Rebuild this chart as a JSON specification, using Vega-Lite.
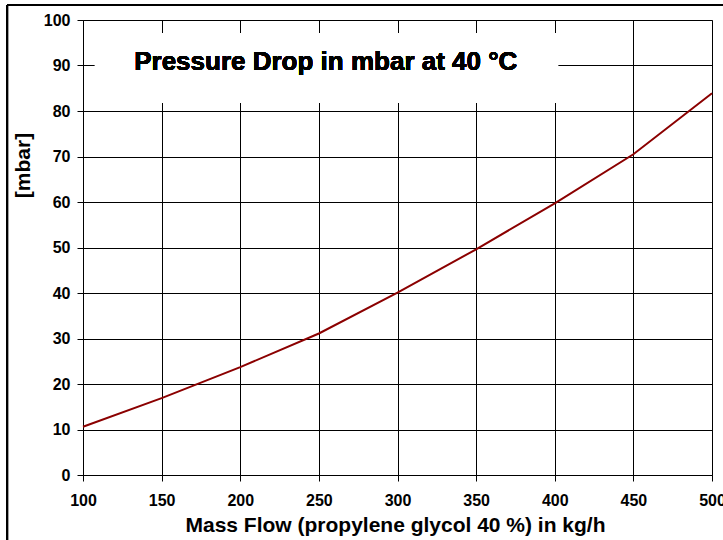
{
  "$schema": "https://vega.github.io/schema/vega-lite/v6.json",
  "width": 629,
  "height": 455,
  "autosize": {"type": "none"},
  "padding": {"left": 83, "top": 20, "right": 11, "bottom": 65},
  "background": "white",
  "config": {
    "font": "Liberation Sans",
    "view": {"stroke": "#808080", "strokeWidth": 1},
    "axis": {
      "labelFont": "Liberation Sans",
      "labelFontWeight": "bold",
      "labelFontSize": 16,
      "labelColor": "black",
      "titleFont": "Liberation Sans",
      "titleFontWeight": "bold",
      "titleFontSize": 21,
      "titleColor": "black",
      "domainColor": "black",
      "domainWidth": 1,
      "tickColor": "black",
      "tickSize": 6,
      "grid": true,
      "gridColor": "black",
      "gridOpacity": 1,
      "gridWidth": 1
    }
  },
  "data": {
    "values": [
      {"flow": 100, "dp": 10.6},
      {"flow": 150, "dp": 16.9},
      {"flow": 200, "dp": 23.7},
      {"flow": 250, "dp": 31.1},
      {"flow": 300, "dp": 40.1},
      {"flow": 350, "dp": 49.6},
      {"flow": 400, "dp": 59.7},
      {"flow": 450, "dp": 70.5},
      {"flow": 500, "dp": 83.9}
    ]
  },
  "layer": [
    {
      "mark": {"type": "line", "color": "#8B0000", "strokeWidth": 2},
      "encoding": {
        "x": {
          "field": "flow",
          "type": "quantitative",
          "scale": {"domain": [100, 500], "nice": false, "zero": false},
          "axis": {
            "grid": true,
            "values": [100, 150, 200, 250, 300, 350, 400, 450, 500],
            "title": "Mass Flow (propylene glycol 40 %) in kg/h",
            "labelPadding": 11,
            "labelFlush": false,
            "titleX": 312,
            "titleY": 56,
            "titleBaseline": "alphabetic",
            "titleAnchor": null
          }
        },
        "y": {
          "field": "dp",
          "type": "quantitative",
          "scale": {"domain": [0, 100], "nice": false},
          "axis": {
            "grid": true,
            "values": [0, 10, 20, 30, 40, 50, 60, 70, 80, 90, 100],
            "title": "[mbar]",
            "labelPadding": 7,
            "labelFlush": false,
            "titleX": -60,
            "titleY": 145,
            "titleAlign": "center",
            "titleBaseline": "middle",
            "titleAnchor": null
          }
        }
      }
    },
    {
      "mark": {"type": "rect", "fill": "white", "stroke": null},
      "encoding": {
        "x": {"datum": 107.6, "type": "quantitative"},
        "x2": {"datum": 402.1},
        "y": {"datum": 97.1, "type": "quantitative"},
        "y2": {"datum": 81.8}
      }
    },
    {
      "mark": {"type": "text", "text": "Pressure Drop in mbar at 40 °C", "font": "Liberation Sans", "fontWeight": "bold", "fontSize": 26, "color": "black", "strokeWidth": 0, "align": "center", "baseline": "alphabetic"},
      "encoding": {
        "x": {"datum": 254.4, "type": "quantitative"},
        "y": {"datum": 89, "type": "quantitative"}
      }
    },
    {
      "mark": {"type": "rule", "color": "black", "strokeWidth": 2, "clip": false},
      "encoding": {
        "x": {"datum": 51.7, "type": "quantitative"},
        "y": {"datum": 103.3, "type": "quantitative"},
        "y2": {"datum": -16.5}
      }
    },
    {
      "mark": {"type": "rule", "color": "black", "strokeWidth": 2, "clip": false},
      "encoding": {
        "x": {"datum": 51.7, "type": "quantitative"},
        "x2": {"datum": 511.4},
        "y": {"datum": 103.3, "type": "quantitative"}
      }
    }
  ]
}
